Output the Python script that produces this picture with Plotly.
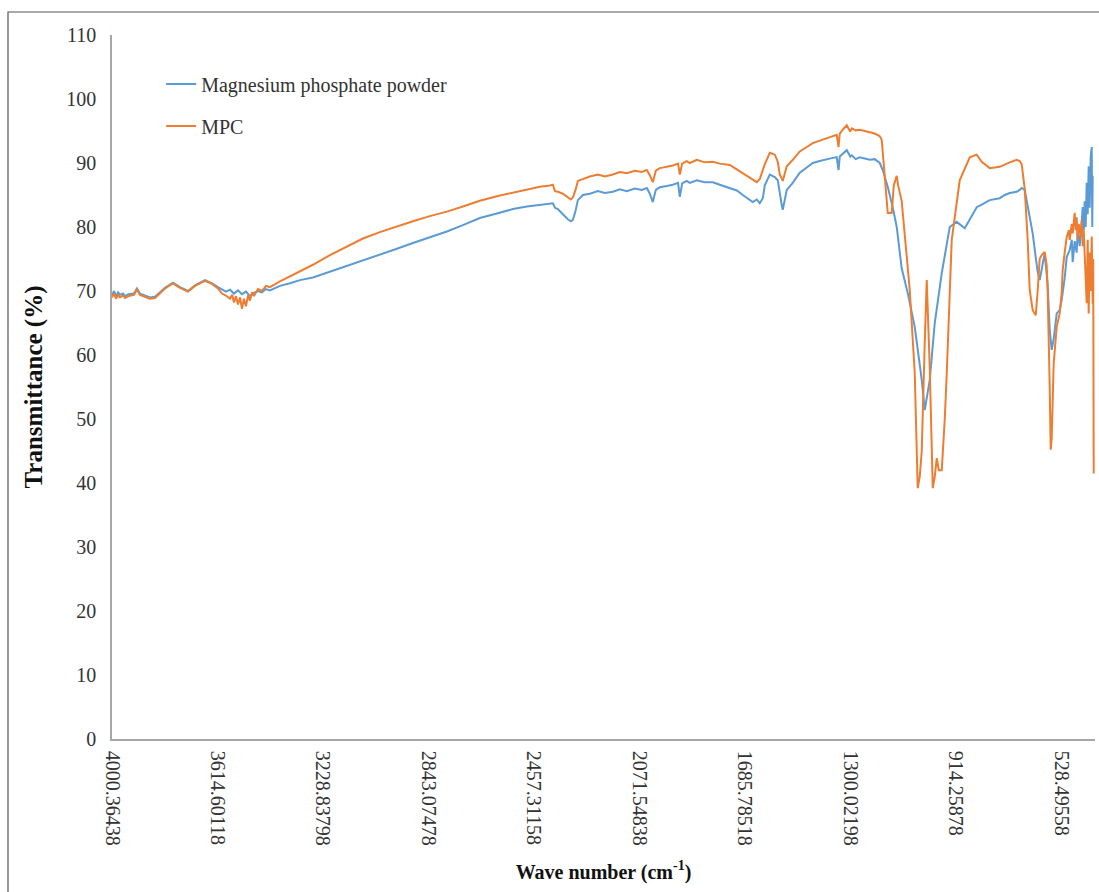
import plotly.graph_objects as go

# ---- data (wavenumber cm^-1, transmittance %) ----
wn_powder = [4000.4, 3993, 3985.7, 3978, 3971.1, 3960, 3952.8, 3940, 3920.0, 3909.0, 3898.0, 3879.7,
             3861.4, 3843.2, 3825, 3806.6, 3777.3, 3751.7, 3722.5, 3696.9, 3660.3, 3634.7, 3612.8,
             3598.2, 3583.5, 3568.9, 3554.3, 3539.7, 3525.0, 3510.4, 3495.8, 3481.2, 3466.5, 3451.9,
             3437.3, 3422.7, 3386.0, 3349.4, 3313.0, 3265.4, 3203.3, 3141.1, 3082.6, 3020.5, 2958.3,
             2899.8, 2837.7, 2775.5, 2717.0, 2654.8, 2592.7, 2534.2, 2483.0, 2435.4, 2398.9, 2387.9,
             2380, 2369.6, 2351.4, 2333.1, 2322, 2314.8, 2305, 2296.5, 2278.2, 2252.6, 2223.4, 2197.8,
             2168.5, 2142.9, 2117.3, 2088.1, 2062.5, 2044.2, 2033.3, 2022.3, 2011.3, 1996.7, 1971.1,
             1949.2, 1930, 1923.6, 1915, 1898.0, 1887.0, 1861.4, 1832.2, 1802.9, 1777.3, 1740.8,
             1715.2, 1693.2, 1667.6, 1656.7, 1642.0, 1631.1, 1620, 1612.8, 1594.5, 1576.2, 1565.3,
             1557.9, 1551, 1547.0, 1540, 1532.4, 1510.4, 1484.8, 1459.2, 1437.3, 1411.7, 1386.1,
             1364.2, 1349.6, 1343, 1338.6, 1327.6, 1313.0, 1300, 1294.7, 1280.1, 1265.5, 1247.2,
             1228.9, 1210.6, 1192.3, 1181.4, 1163.1, 1144.8, 1130.2, 1111.9, 1090, 1064.3, 1038.7,
             1027.7, 1009.4, 991.1, 965.5, 936.3, 910.7, 881.4, 837.6, 819.3, 790, 753.5, 735.2,
             716.9, 691.4, 680.4, 673.1, 662.1, 651.2, 643.9, 632.9, 621.9, 614.6, 607.3, 600.0,
             589.0, 578.1, 570.7, 563.4, 556.1, 545.1, 534.2, 526.8, 515.9, 508.5, 497.6, 490,
             486.6, 479.3, 472, 468.3, 461.0, 454, 450.0, 446, 442.7, 439, 435.4, 431.7, 428.1,
             424.4, 420.7, 417.0, 415, 413.4]
t_powder = [69.3, 70.0, 69.2, 69.8, 69.4, 69.6, 69.2, 69.5, 69.6, 70.4, 69.6, 69.3,
            69.0, 69.1, 69.8, 70.5, 71.3, 70.6, 70.0, 70.9, 71.7, 71.2, 70.6,
            70.2, 69.9, 70.2, 69.6, 70.1, 69.5, 69.9, 69.2, 69.7, 70.0, 69.8,
            70.3, 70.1, 70.8, 71.2, 71.7, 72.1, 73.0, 73.9, 74.8, 75.6, 76.6,
            77.5, 78.4, 79.3, 80.3, 81.4, 82.1, 82.8, 83.2, 83.4, 83.6, 83.7,
            83.0, 82.8, 82.0, 81.2, 80.9, 81.1, 82.5, 84.2, 85.0, 85.2, 85.6, 85.3,
            85.5, 85.9, 85.6, 86.0, 85.8, 86.1, 85.2, 83.9, 85.8, 86.2, 86.4,
            86.6, 86.9, 84.7, 86.8, 87.2, 86.9, 87.3, 87.0, 87.0, 86.6, 86.1,
            85.7, 85.0, 84.2, 83.9, 84.3, 83.7, 84.5, 86.5, 88.2, 87.8, 87.3,
            85.0, 83.5, 82.7, 84.5, 85.8, 86.9, 88.5, 89.3, 90.0, 90.3, 90.6,
            90.8, 90.9, 88.9, 91.0, 91.5, 92.0, 91.0, 91.2, 90.6, 90.9, 90.7,
            90.5, 90.6, 90.0, 88.9, 86.3, 83.1, 80.0, 73.5, 69.7, 64.4, 56.1,
            51.4, 56.1, 65.0, 72.8, 80.0, 80.8, 79.8, 83.1, 83.5, 84.2, 84.5, 85.0,
            85.3, 85.5, 85.8, 86.1, 85.8, 83.1, 81.5, 79.0, 75.3, 73.0, 71.7, 73.5,
            75.9, 71.0, 64.0, 60.8, 62.5, 66.5, 67.0, 68.6, 72.0, 75.3, 76.4, 78.0,
            74.5, 77.8, 76.0, 79.5, 77.0, 80.5, 83.1, 79.5, 84.0, 80.0, 86.9, 82.0, 89.5,
            83.0, 91.0, 92.5, 80.0, 88.0]

wn_mpc = [4000.4, 3993, 3985.7, 3978, 3971.1, 3960, 3952.8, 3940, 3920.0, 3909.0, 3898.0, 3879.7,
          3861.4, 3843.2, 3825, 3806.6, 3777.3, 3751.7, 3722.5, 3696.9, 3660.3, 3634.7, 3612.8,
          3598.2, 3583.5, 3568.9, 3561, 3554.3, 3547, 3539.7, 3532, 3525.0, 3518, 3510.4, 3503,
          3495.8, 3488, 3481.2, 3466.5, 3451.9, 3437.3, 3422.7, 3386.0, 3349.4, 3313.0, 3265.4,
          3203.3, 3141.1, 3082.6, 3020.5, 2958.3, 2899.8, 2837.7, 2775.5, 2717.0, 2654.8, 2592.7,
          2534.2, 2483.0, 2435.4, 2398.9, 2387.9, 2380, 2369.6, 2351.4, 2333.1, 2322, 2314.8,
          2305, 2296.5, 2278.2, 2252.6, 2223.4, 2197.8, 2168.5, 2142.9, 2117.3, 2088.1, 2062.5,
          2044.2, 2033.3, 2022.3, 2011.3, 1996.7, 1971.1, 1949.2, 1930, 1923.6, 1915, 1898.0,
          1887.0, 1861.4, 1832.2, 1802.9, 1777.3, 1740.8, 1715.2, 1693.2, 1667.6, 1656.7, 1642.0,
          1631.1, 1612.8, 1594.5, 1576.2, 1565.3, 1557.9, 1547.0, 1540, 1532.4, 1510.4, 1484.8,
          1459.2, 1437.3, 1411.7, 1386.1, 1364.2, 1349.6, 1343, 1338.6, 1327.6, 1313.0, 1300,
          1294.7, 1280.1, 1265.5, 1247.2, 1228.9, 1210.6, 1192.3, 1185, 1174.1, 1163.1, 1148.5,
          1141, 1130.2, 1125, 1111.9, 1082.6, 1064.3, 1053.4, 1046.0, 1038.7, 1027.7, 1020.4,
          1009.4, 998.4, 991.1, 983.8, 976.5, 965.5, 954.5, 947.2, 929, 899.8, 863.1, 837.6,
          819.3, 790, 753.5, 735.2, 716.9, 691.4, 680.4, 673.1, 662.1, 651.2, 643.9, 632.9,
          625, 621.9, 614.6, 607.3, 600.0, 589.0, 581.7, 578.1, 570.7, 567, 563.4, 556.1, 545.1,
          534.2, 526.8, 523.2, 515.9, 508.5, 501, 497.6, 490, 486.6, 479.3, 475.6, 472, 468.3,
          464.6, 457.3, 453.6, 450.0, 446.3, 442.7, 439, 435.4, 431.7, 428.1, 424.4, 420.7,
          417, 413.4, 411.5, 409.7]
t_mpc = [69.0, 69.6, 68.8, 69.4, 69.0, 69.3, 68.9, 69.2, 69.4, 70.2, 69.4, 69.1,
         68.8, 68.9, 69.7, 70.4, 71.2, 70.5, 69.9, 70.8, 71.6, 71.1, 70.4,
         69.6, 69.3, 68.8, 69.4, 68.2, 69.2, 67.9, 69.0, 67.2, 68.8, 67.6, 69.3,
         68.5, 69.8, 69.2, 70.3, 70.0, 70.8, 70.6, 71.5, 72.3, 73.0, 74.1,
         75.6, 77.0, 78.2, 79.2, 80.1, 80.9, 81.7, 82.4, 83.2, 84.1, 84.8,
         85.4, 85.9, 86.3, 86.5, 86.6, 85.6, 85.5, 85.2, 84.6, 84.3, 84.6,
         85.8, 87.2, 87.5, 87.9, 88.2, 87.9, 88.2, 88.6, 88.4, 88.8, 88.6,
         88.9, 88.1, 87.0, 88.8, 89.2, 89.4, 89.6, 89.9, 88.2, 89.9, 90.3,
         90.0, 90.5, 90.1, 90.2, 89.9, 89.7, 89.0, 88.4, 87.7, 87.4, 87.0,
         87.5, 89.8, 91.6, 91.3, 90.2, 88.2, 87.2, 88.5, 89.5, 90.5, 91.8,
         92.5, 93.1, 93.5, 93.9, 94.2, 94.4, 92.5, 94.6, 95.2, 95.9, 94.9,
         95.4, 95.1, 95.2, 95.0, 94.8, 94.6, 94.2, 93.6, 88.0, 82.2, 82.2,
         86.5, 88.0, 86.5, 84.0, 70.2, 57.2, 39.2, 41.0, 45.0, 62.0, 71.7,
         58.0, 39.2, 41.0, 43.9, 42.0, 42.0, 50.0, 57.2, 78.0, 87.3, 90.9, 91.3,
         90.2, 89.2, 89.4, 89.8, 90.1, 90.5, 90.3, 89.8, 86.0, 78.0, 70.2, 67.0,
         66.4, 66.2, 70.0, 75.0, 75.6, 76.1, 74.0, 70.0, 55.0, 45.2, 47.0, 58.7, 64.4,
         66.5, 69.7, 73.3, 76.0, 78.4, 79.5, 78.0, 80.5, 79.0, 82.2, 79.5, 81.5, 78.0,
         80.5, 78.5, 81.0, 77.0, 79.5, 76.4, 72.5, 68.1, 78.0, 66.5, 76.0, 70.0,
         78.5, 68.0, 75.0, 41.5]

x_tick_values = [4000.36438, 3614.60118, 3228.83798, 2843.07478, 2457.31158,
                 2071.54838, 1685.78518, 1300.02198, 914.25878, 528.49558]
x_tick_labels = ["4000.36438", "3614.60118", "3228.83798", "2843.07478", "2457.31158",
                 "2071.54838", "1685.78518", "1300.02198", "914.25878", "528.49558"]
y_tick_values = [0, 10, 20, 30, 40, 50, 60, 70, 80, 90, 100, 110]

series_names = ["Magnesium phosphate powder", "MPC"]
series_colors = ["#5B9BD5", "#ED7D31"]

FONT = "Liberation Serif, Times New Roman, serif"

fig = go.Figure()
fig.add_trace(go.Scatter(x=wn_powder, y=t_powder, mode="lines", name=series_names[0],
                         legendgroup="a", line=dict(color=series_colors[0], width=2)))
fig.add_trace(go.Scatter(x=wn_mpc, y=t_mpc, mode="lines", name=series_names[1],
                         legendgroup="b", line=dict(color=series_colors[1], width=2)))

fig.update_layout(
    width=1099, height=892,
    margin=dict(l=112, r=4, t=35, b=153),
    paper_bgcolor="white", plot_bgcolor="white",
    font=dict(family=FONT, size=20, color="#333333"),
    showlegend=True,
    legend=dict(x=0.05, y=0.958, xanchor="left", yanchor="top",
                bgcolor="rgba(0,0,0,0)", traceorder="grouped", tracegroupgap=13,
                font=dict(family=FONT, size=20, color="#333333")),
    shapes=[dict(type="rect", xref="paper", yref="paper",
                 x0=-0.1058, x1=1.2, y0=-0.4, y1=1.0327,
                 line=dict(color="#555555", width=1.2), fillcolor="rgba(0,0,0,0)", layer="below")],
)

fig.update_xaxes(
    range=[4000.36438, 405], autorange=False,
    tickmode="array", tickvals=x_tick_values, ticktext=x_tick_labels,
    tickangle=90, ticks="", ticklabelstandoff=6,
    showline=True, linecolor="#a6a6a6", linewidth=1.5,
    showgrid=False, zeroline=False,
    tickfont=dict(family=FONT, size=20, color="#333333"),
    title=dict(text="<b>Wave number (cm<sup>-1</sup>)</b>", standoff=20,
               font=dict(family=FONT, size=20, color="#111111")),
)
fig.update_yaxes(
    range=[0, 110], autorange=False,
    tickmode="array", tickvals=y_tick_values,
    ticks="", ticklabelstandoff=10,
    showline=True, linecolor="#a6a6a6", linewidth=1.5,
    showgrid=False, zeroline=False,
    tickfont=dict(family=FONT, size=20, color="#333333"),
    title=dict(text="<b>Transmittance (%)</b>", standoff=17,
               font=dict(family=FONT, size=25, color="#111111")),
)

# remove the default page margin so the figure sits at the window's top-left corner
fig.write_html("out.html", config={"displayModeBar": False},
               post_script="document.body.style.margin='0';")
